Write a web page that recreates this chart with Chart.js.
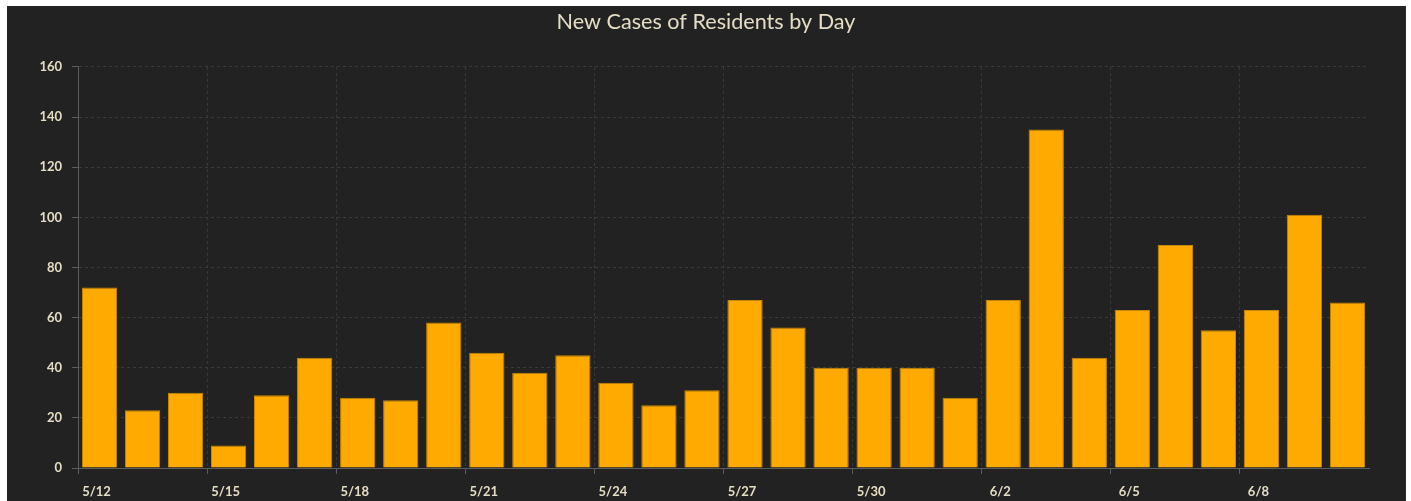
<!DOCTYPE html>
<html>
<head>
<meta charset="utf-8">
<script src="https://cdn.jsdelivr.net/npm/chart.js@4"></script>
<style>
  body { margin: 0; background: #fff; }
  #wrap { position: absolute; left: 7px; top: 6px; width: 1398px; height: 495px; background: #222222; border-right: 1px solid #2c2c2c; }
</style>
</head>
<body>
<div id="wrap"><canvas id="myChart"></canvas></div>
<script>
// data
var days = ["5/12","5/13","5/14","5/15","5/16","5/17","5/18","5/19","5/20","5/21",
            "5/22","5/23","5/24","5/25","5/26","5/27","5/28","5/29","5/30","5/31",
            "6/1","6/2","6/3","6/4","6/5","6/6","6/7","6/8","6/9","6/10"];
var newCases = [72, 23, 30, 9, 29, 44, 28, 27, 58, 46,
                38, 45, 34, 25, 31, 67, 56, 40, 40, 40,
                28, 67, 135, 44, 63, 89, 55, 63, 101, 66];
var yTicks = [0, 20, 40, 60, 80, 100, 120, 140, 160];

var textColor = '#e4ddc4';
var gridColor = '#3a3a3a';
var axisColor = '#5c5c5c';

const ctx = document.getElementById('myChart');

new Chart(ctx, {
type: 'bar',
data: {
    labels: days,
    datasets: [{
    label: 'New Cases',
    data: newCases,
    backgroundColor: '#ffaa00',
    borderColor: '#c98600',
    borderWidth: 1,
    categoryPercentage: 1,
    barPercentage: 0.82
    }]
},
options: {
    responsive: true,
    maintainAspectRatio: false,
    animation: false,
    layout: { padding: 0 },
    plugins: {
    legend: { display: false },
    tooltip: { enabled: false },
    title: {
        display: true,
        text: 'New Cases of Residents by Day',
        color: textColor,
        font: { family: 'Lato', size: 21.6, weight: 'normal' },
        padding: { top: 3, bottom: 32 }
    }
    },
    scales: {
    x: {
        grid: {
        offset: true,
        color: (c) => c.index % 3 === 0 ? gridColor : 'transparent',
        tickColor: (c) => c.index % 3 === 0 ? axisColor : 'transparent',
        tickLength: 6
        },
        border: { color: axisColor, dash: [3, 3] },
        ticks: {
        autoSkip: false,
        maxRotation: 0,
        color: textColor,
        padding: 10,
        labelOffset: -3,
        font: { family: 'Lato', size: 13, weight: 'bold' },
        callback: function(val, i) { return i % 3 === 0 ? days[i] : ''; }
        },
        afterFit: (s) => { s.height = 33; }
    },
    y: {
        min: 0,
        max: 160,
        afterBuildTicks: (s) => { s.ticks = yTicks.map(v => ({ value: v })); },
        grid: {
        color: gridColor,
        tickColor: axisColor,
        tickLength: 6
        },
        border: { color: axisColor, dash: [3, 3] },
        ticks: {
        color: textColor,
        padding: 10,
        font: { family: 'Lato', size: 13, weight: 'bold' }
        },
        afterFit: (s) => { s.width = 71; }
    },
    // empty space on the right side of the plot
    yRight: {
        position: 'right',
        grid: { display: false },
        border: { display: false },
        ticks: { display: false },
        afterFit: (s) => { s.width = 36; }
    }
    }
}
});
</script>
</body>
</html>
